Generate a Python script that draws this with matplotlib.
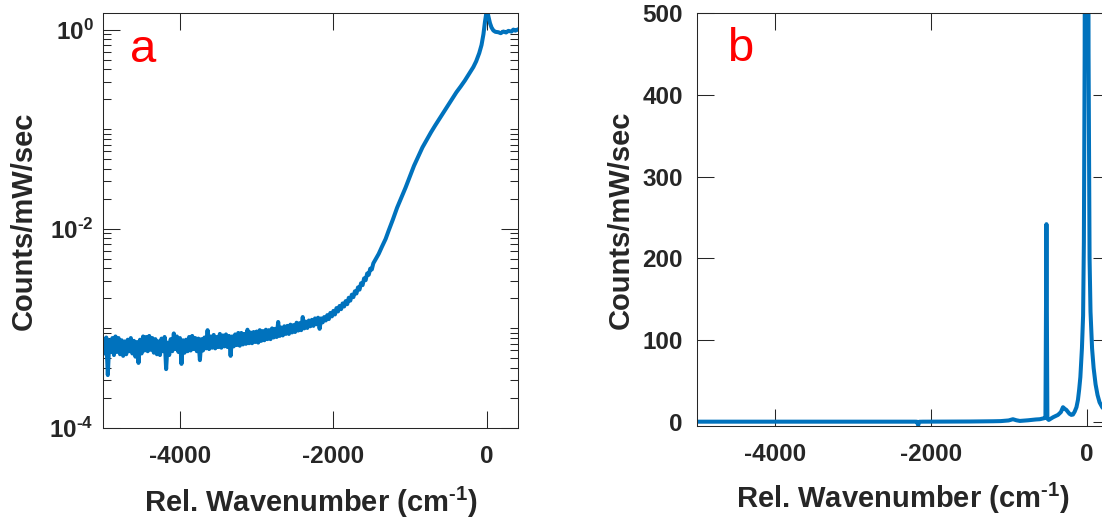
import numpy as np
import matplotlib
matplotlib.use('Agg')
import matplotlib.pyplot as plt
from matplotlib.ticker import FixedLocator, LogLocator, NullFormatter, FixedFormatter

plt.rcParams['font.family'] = ['Liberation Sans', 'DejaVu Sans']
plt.rcParams['font.weight'] = 'bold'
plt.rcParams['mathtext.fontset'] = 'custom'
plt.rcParams['mathtext.rm'] = 'Liberation Sans:bold'
plt.rcParams['mathtext.it'] = 'Liberation Sans:bold'
plt.rcParams['mathtext.bf'] = 'Liberation Sans:bold'
plt.rcParams['mathtext.sf'] = 'Liberation Sans:bold'
plt.rcParams['mathtext.default'] = 'rm'
plt.rcParams['axes.unicode_minus'] = False

TXT = '#262626'
BLUE = '#0072BD'

# ---------------- Panel a (log scale) ----------------
# noisy baseline: upper-edge readings at -5000, -4960, ... -1520 and
# lower-edge readings 20 cm-1 later (units of 1e-4 counts/mW/sec)
wn_a_hi = np.arange(-5000, -1500, 40)
wn_a_lo = wn_a_hi + 20
counts_a_hi_e4 = [
    7.8, 8.1, 7.6, 8.0, 8.3, 8.0, 7.6, 7.4, 7.7, 8.0,
    7.5, 7.3, 7.7, 8.3, 8.2, 8.4, 8.0, 7.8, 7.4, 7.9,
    8.2, 7.2, 7.8, 8.9, 8.3, 8.0, 7.6, 7.7, 8.2, 8.4,
    8.0, 7.9, 7.8, 8.1, 9.6, 8.3, 8.6, 8.2, 8.8, 8.5,
    8.7, 8.4, 8.3, 8.7, 9.0, 9.0, 8.8, 9.7, 9.1, 9.2,
    9.3, 9.6, 9.4, 9.7, 9.6, 10.0, 9.9, 11.6, 10.2, 10.5,
    10.6, 10.9, 10.8, 11.4, 11.3, 13.0, 11.7, 12.0, 12.2, 12.6,
    12.8, 12.6, 13.0, 13.6, 14.3, 15.0, 16.0, 16.8, 17.8, 18.8,
    20.3, 21.8, 23.6, 25.8, 28.4, 31.8, 35.6, 39.8,
]
counts_a_lo_e4 = [
    5.6, 3.4, 5.8, 5.4, 5.8, 5.5, 5.3, 5.5, 5.9, 5.6,
    5.2, 4.5, 5.6, 6.0, 5.9, 6.1, 5.7, 5.5, 5.4, 5.9,
    3.9, 5.4, 5.9, 6.2, 5.8, 4.4, 5.7, 5.9, 6.0, 6.2,
    5.9, 4.8, 6.0, 6.3, 6.2, 6.4, 6.3, 6.5, 6.4, 6.6,
    6.5, 5.3, 6.6, 6.8, 6.7, 6.9, 7.0, 7.1, 7.1, 7.3,
    7.2, 7.5, 7.6, 7.8, 7.8, 8.1, 8.2, 8.4, 8.5, 8.8,
    8.8, 9.1, 9.2, 9.5, 9.6, 10.0, 10.1, 10.5, 10.6, 11.0,
    9.9, 11.5, 12.0, 12.4, 13.2, 13.8, 14.8, 15.6, 16.6, 17.5,
    19.0, 20.6, 22.4, 24.5, 27.2, 30.5, 34.5, 39.0,
]
wn_a_rise = [-1480, -1453, -1410, -1368, -1320, -1280, -1225, -1170, -1115, -1060,
             -1005, -950, -895, -840, -785, -729, -674, -619, -564, -508,
             -453, -397, -342, -287, -232, -177, -140, -100, -70, -45,
             -25, 0, 20, 40, 60, 84, 110, 150, 180, 215,
             250, 280, 320, 345, 370, 400]
counts_a_rise = [0.0045, 0.0049, 0.0056, 0.0066, 0.0079, 0.0096, 0.0124, 0.0163, 0.0205, 0.0259,
                 0.0334, 0.0429, 0.0530, 0.0656, 0.0780, 0.0929, 0.109, 0.127, 0.148, 0.173,
                 0.202, 0.235, 0.268, 0.308, 0.36, 0.42, 0.48, 0.58, 0.70, 0.90,
                 1.20, 1.60, 1.35, 1.16, 1.05, 0.98, 0.95, 0.94, 0.92, 0.955,
                 0.935, 0.97, 0.955, 1.0, 0.975, 1.0]

# ---------------- Panel b (linear scale) ----------------
wn_b = [-5000, -4000, -3000, -2200, -2175, -2160, -2145, -2100, -1500, -1200,
        -1100, -1000, -945, -900, -856, -750, -650, -600, -546, -528,
        -515, -503, -486, -430, -367, -330, -303, -280, -260, -220,
        -196, -175, -153, -130, -111, -95, -80, -60, -45, -35,
        -25, -12, 0, 12, 25, 38, 50, 70, 90, 115,
        140, 166, 200, 250, 300]
counts_b = [0.3, 0.3, 0.3, 0.3, 0.2, -4.0, 0.2, 0.3, 0.5, 0.8,
            1.0, 1.8, 3.3, 2.0, 1.2, 2.0, 3.0, 3.3, 4.5, 5.0,
            242, 4.0, 2.4, 5.7, 8.6, 12, 18, 16, 14.7, 10,
            8.6, 9.0, 12.6, 18, 27, 40, 55, 90, 130, 220,
            450, 1200, 2500, 1200, 450, 200, 135, 90, 66, 46,
            33, 24, 18, 13, 10]

xticks = [-4000, -2000, 0]
xlabel = 'Rel. Wavenumber (cm$^{\\text{-}1}$)'
ylabel = 'Counts/mW/sec'

W, H = 1102, 519
fig = plt.figure(figsize=(W / 100, H / 100), dpi=100)

axa = fig.add_axes([103.2 / W, (H - 428) / H, (517.6 - 103.2) / W, (428 - 13.5) / H])
axb = fig.add_axes([696.7 / W, (H - 426) / H, (1110 - 696.7) / W, (426 - 13.3) / H])

# interleave upper/lower edge readings of the noisy band
wn_noise = np.empty(2 * len(wn_a_hi))
wn_noise[0::2] = wn_a_hi
wn_noise[1::2] = wn_a_lo
cnt_noise = np.empty(2 * len(wn_a_hi))
cnt_noise[0::2] = np.array(counts_a_hi_e4) * 1e-4
cnt_noise[1::2] = np.array(counts_a_lo_e4) * 1e-4

wn_a = np.concatenate([wn_noise, wn_a_rise])
counts_a = np.concatenate([cnt_noise, counts_a_rise])
axa.plot(wn_a, counts_a, color=BLUE, lw=2.9, solid_joinstyle='round')
axa.set_yscale('log')
axa.set_xlim(-5000, 400)
axa.set_ylim(1e-4, 1.45)
axa.yaxis.set_major_locator(FixedLocator([1e-4, 1e-2, 1]))
axa.yaxis.set_major_formatter(FixedFormatter(['$10^{\\text{-}4}$', '$10^{\\text{-}2}$', '$10^{0}$']))
axa.yaxis.set_minor_locator(LogLocator(base=10, subs=np.arange(1, 10), numticks=30))
axa.yaxis.set_minor_formatter(NullFormatter())

axb.plot(wn_b, counts_b, color=BLUE, lw=2.9, solid_joinstyle='round')
axb.set_xlim(-5000, 300)
axb.set_ylim(-5, 500)
axb.set_yticks([0, 100, 200, 300, 400, 500])

for ax, ypad, xlab_y, ylab_x in [(axa, 7, -0.137, -0.157), (axb, 10, -0.132, -0.151)]:
    ax.set_xticks(xticks)
    ax.tick_params(which='both', direction='in', top=True, right=True, width=0.75,
                   color=TXT, labelcolor=TXT, labelsize=17.5)
    ax.tick_params(which='major', length=12.2)
    ax.tick_params(which='minor', length=6.1)
    ax.tick_params(axis='x', pad=12.5)
    ax.tick_params(axis='y', pad=ypad)
    for s in ax.spines.values():
        s.set_linewidth(0.75)
        s.set_color(TXT)
    ax.set_xlabel(xlabel, fontsize=21, fontweight='bold', color=TXT)
    ax.set_ylabel(ylabel, fontsize=21, fontweight='bold', color=TXT)
    ax.xaxis.set_label_coords(0.5, xlab_y)
    ax.yaxis.set_label_coords(ylab_x, 0.5)

fig.text(130 / W, 1 - 62 / H, 'a', color='red', fontsize=34, fontweight='normal',
         ha='left', va='baseline')
fig.text(727 / W, 1 - 61 / H, 'b', color='red', fontsize=34, fontweight='normal',
         ha='left', va='baseline')

fig.savefig('out.png', dpi=100)
